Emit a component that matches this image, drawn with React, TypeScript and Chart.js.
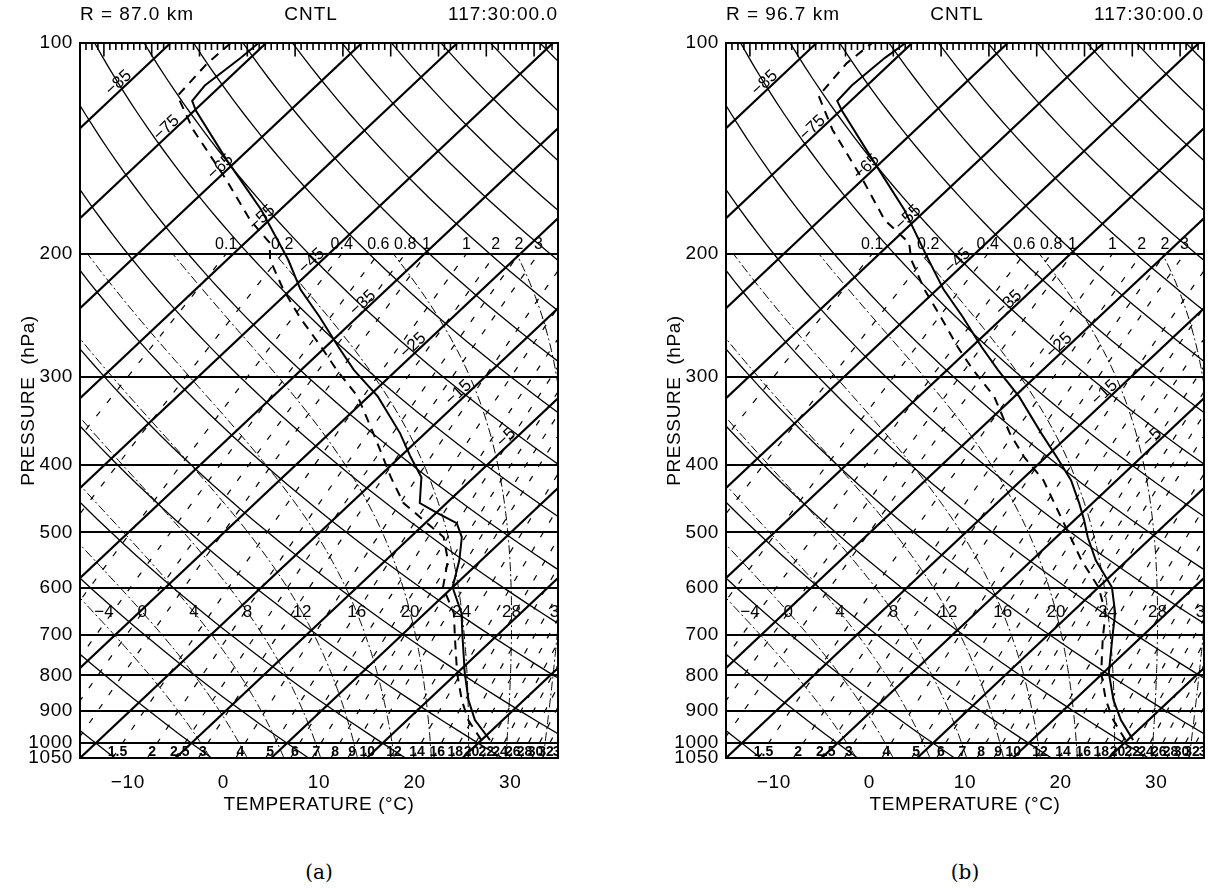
import React, { useEffect, useRef } from "react";
import { Chart, registerables } from "chart.js";

Chart.register(...registerables);

// ---------------- axes ----------------
const pressureTicks = [100, 200, 300, 400, 500, 600, 700, 800, 900, 1000, 1050];
const temperatureTicks = [-10, 0, 10, 20, 30];

// ---------------- background diagram lines ----------------
const isothermValues = [-125, -115, -105, -95, -85, -75, -65, -55, -45, -35, -25, -15, -5, 5, 15, 25, 35];
const dryAdiabatThetas = [-35, -25, -15, -5, 5, 15, 25, 35, 45, 55, 65, 75, 85, 95, 105, 115, 125, 135, 145, 155, 165, 175, 185, 195, 205];
const moistThetaW = [-4, 0, 4, 8, 12, 16, 20, 24, 28, 32];
const mixingRatios = [0.1, 0.2, 0.4, 0.6, 0.8, 1, 1.5, 2, 2.5, 3, 4, 5, 6, 7, 8, 9, 10, 12, 14, 16, 18, 20, 22, 24, 26, 28, 30, 32, 35];
const mixingTopValues = [0.1, 0.2, 0.4, 0.6, 0.8, 1, 1.5, 2, 2.5, 3];
const mixingTopText = ["0.1", "0.2", "0.4", "0.6", "0.8", "1", "1", "2", "2", "3"];
const isothermLabelT = [-85, -75, -65, -55, -45, -35, -25, -15, -5];
const isothermLabelP = [113, 131, 149, 176, 203, 233, 268, 313, 363];

// ---------------- soundings (hPa, °C) ----------------
const tempLevelsA = [990, 927, 868, 794, 706, 652, 599, 548, 508, 485, 469, 454, 417, 390, 361, 320, 293, 272, 246, 225, 204, 173, 147, 125, 121, 115, 105, 100];
const tempA = [25.9, 22.1, 19.2, 15.8, 11.6, 8.8, 5.0, 2.7, 0.4, -1.7, -4.9, -7.8, -10.5, -13.9, -17.6, -24.0, -29.5, -33.6, -39.0, -44.0, -48.6, -57.0, -66.1, -74.8, -76.3, -76.7, -76.0, -75.8];
const dewLevelsA = [990, 927, 868, 794, 706, 652, 599, 548, 508, 454, 417, 390, 361, 320, 293, 272, 246, 225, 204, 193, 179, 157, 133, 119, 107, 100];
const dewA = [25.0, 21.4, 18.5, 15.0, 10.8, 8.0, 4.0, 1.5, -1.5, -9.5, -13.7, -16.8, -20.4, -26.1, -31.3, -35.4, -41.1, -45.8, -50.5, -52.4, -57.0, -63.9, -73.0, -78.4, -78.9, -78.7];

const tempLevelsB = [990, 927, 868, 794, 706, 652, 599, 548, 508, 480, 454, 421, 390, 361, 320, 293, 272, 246, 225, 204, 173, 147, 125, 121, 115, 105, 100];
const tempB = [25.6, 22.1, 19.1, 15.6, 12.0, 9.6, 6.4, 1.7, -1.7, -4.0, -6.4, -9.8, -13.9, -18.1, -24.5, -29.7, -33.9, -39.3, -44.3, -49.2, -57.3, -66.1, -74.8, -76.4, -76.6, -76.2, -75.7];
const dewLevelsB = [990, 927, 868, 794, 706, 652, 599, 548, 508, 454, 421, 390, 361, 320, 293, 272, 246, 225, 204, 193, 179, 157, 133, 119, 107, 100];
const dewB = [24.8, 21.3, 18.3, 14.8, 11.0, 8.6, 5.0, 0.2, -3.5, -9.0, -12.7, -17.3, -21.4, -27.1, -32.3, -36.4, -41.6, -46.3, -51.0, -53.1, -58.2, -64.9, -73.7, -78.9, -79.6, -79.2];

const FONT = "'Liberation Sans', Arial, Helvetica, sans-serif";

// skew-T transform: horizontal position in °C at the 1050 hPa base
const SKEW = 33.8;
const P_BASE = 1050;
const skewX = (t: number, p: number) => t + SKEW * Math.log(P_BASE / p);

// thermodynamics used for the reference curves
const RD = 287.04, CP = 1005.7, LV = 2.501e6, EPS = 0.622;
const satVap = (tc: number) => 6.112 * Math.exp((17.67 * tc) / (tc + 243.5));
const moistRate = (tk: number, p: number) => {
  const es = satVap(tk - 273.15);
  const rs = (EPS * es) / (p - es);
  return (RD * tk + LV * rs) / (p * (CP + (LV * LV * rs * EPS) / (RD * tk * tk)));
};
function integrate(tk: number, p0: number, p1: number, h: number) {
  const out: { p: number; t: number }[] = [{ p: p0, t: tk - 273.15 }];
  let t = tk, p = p0;
  while ((h < 0 && p > p1) || (h > 0 && p < p1)) {
    const k1 = moistRate(t, p);
    const k2 = moistRate(t + (h / 2) * k1, p + h / 2);
    const k3 = moistRate(t + (h / 2) * k2, p + h / 2);
    const k4 = moistRate(t + h * k3, p + h);
    t += (h / 6) * (k1 + 2 * k2 + 2 * k3 + k4);
    p += h;
    out.push({ p, t: t - 273.15 });
  }
  return out;
}
function moistPath(tw: number) {
  const up = integrate(tw + 273.15, 1000, 200, -5);
  const down = integrate(tw + 273.15, 1000, 1050, 5);
  return [...down.reverse(), ...up.slice(1)];
}
const mixingT = (w: number, p: number) => {
  const l = Math.log((w * p) / (622 + w) / 6.112);
  return (243.5 * l) / (17.67 - l);
};
const logSteps = (pHi: number, pLo: number, n: number) =>
  Array.from({ length: n + 1 }, (_, i) => pHi * Math.pow(pLo / pHi, i / n));

const moistPaths = moistThetaW.map(moistPath);

const baseLine = (data: any[], width: number, dash: number[] = []) => ({
  data,
  borderColor: "#000",
  borderWidth: width,
  borderDash: dash,
  borderCapStyle: "butt",
  pointRadius: 0,
  fill: false,
  tension: 0,
  spanGaps: false,
});

function buildDatasets(tLev: number[], tVal: number[], dLev: number[], dVal: number[]) {
  const sets: any[] = [];
  mixingRatios.forEach((w) => {
    sets.push(baseLine(logSteps(1050, 200, 24).map((p) => ({ x: skewX(mixingT(w, p), p), y: p })), 1.2, [6, 11]));
  });
  moistPaths.forEach((path) => {
    sets.push(baseLine(path.map((q) => ({ x: skewX(q.t, q.p), y: q.p })), 1, [9, 3, 2, 3]));
  });
  dryAdiabatThetas.forEach((th) => {
    sets.push(
      baseLine(
        logSteps(1050, 100, 60).map((p) => ({ x: skewX((th + 273.15) * Math.pow(p / 1000, 0.286) - 273.15, p), y: p })),
        1.3
      )
    );
  });
  isothermValues.forEach((t) => {
    sets.push(baseLine([{ x: skewX(t, 1050), y: 1050 }, { x: skewX(t, 100), y: 100 }], 2.2));
  });
  // ruler marks hanging from the top frame
  const ruler: any[] = [];
  for (let i = 0; i <= 80; i++) {
    const xv = -15 + i * 0.625;
    ruler.push({ x: xv, y: 100 }, { x: xv, y: i % 8 === 4 ? 104.5 : 102.3 }, { x: xv, y: null });
  }
  sets.push(baseLine(ruler, 1.6));
  sets.push(baseLine(dLev.map((p, i) => ({ x: skewX(dVal[i], p), y: p })), 2, [9, 7]));
  sets.push(baseLine(tLev.map((p, i) => ({ x: skewX(tVal[i], p), y: p })), 2));
  return sets;
}

const minus = (v: number) => (v < 0 ? "\u2212" + Math.abs(v) : String(v));

const spacing = {
  id: "spacing",
  beforeDraw(chart: any) {
    chart.ctx.letterSpacing = "0.6px";
  },
};

const annotate = {
  id: "annotate",
  afterDatasetsDraw(chart: any) {
    const { ctx, chartArea: a, scales } = chart;
    const x = scales.x, y = scales.y;
    const px = (t: number, p: number) => x.getPixelForValue(skewX(t, p));
    ctx.save();
    ctx.letterSpacing = "0px";
    ctx.beginPath();
    ctx.rect(a.left, a.top, a.right - a.left, a.bottom - a.top);
    ctx.clip();
    ctx.fillStyle = "#000";

    // isotherm labels, written along the upper side of each line
    ctx.font = `17px ${FONT}`;
    ctx.textAlign = "center";
    ctx.textBaseline = "bottom";
    isothermLabelT.forEach((t, i) => {
      const p = isothermLabelP[i];
      const x0 = px(t, p), y0 = y.getPixelForValue(p);
      const x1 = px(t, p * 0.9), y1 = y.getPixelForValue(p * 0.9);
      ctx.save();
      ctx.translate(x0, y0);
      ctx.rotate(Math.atan2(y1 - y0, x1 - x0));
      ctx.fillText(minus(t), -11, 2);
      ctx.restore();
    });

    // moist adiabat labels near 650 hPa
    ctx.textBaseline = "middle";
    moistThetaW.forEach((tw, i) => {
      const path = moistPaths[i];
      const q = path.reduce((b, c) => (Math.abs(c.p - 650) < Math.abs(b.p - 650) ? c : b));
      const xv = Math.max(skewX(q.t, q.p), -12.5);
      ctx.fillText(minus(tw), x.getPixelForValue(xv), y.getPixelForValue(q.p));
    });

    // mixing ratio labels at the 200 hPa end
    ctx.font = `16px ${FONT}`;
    ctx.textBaseline = "bottom";
    mixingTopValues.forEach((w, i) => {
      ctx.fillText(mixingTopText[i], px(mixingT(w, 200), 200), y.getPixelForValue(200) - 1);
    });

    // mixing ratio labels in the 1000-1050 hPa band
    ctx.font = `bold 14px ${FONT}`;
    ctx.textBaseline = "middle";
    mixingRatios.forEach((w) => {
      if (w < 1) return;
      ctx.fillText(String(w), px(mixingT(w, 1025), 1025), y.getPixelForValue(1025) + 1);
    });
    ctx.restore();

    ctx.save();
    ctx.strokeStyle = "#000";
    ctx.lineWidth = 2;
    ctx.strokeRect(a.left, a.top, a.right - a.left, a.bottom - a.top);
    ctx.restore();
  },
};

type PanelProps = {
  left: number;
  radius: string;
  caption: string;
  tLev: number[];
  tVal: number[];
  dLev: number[];
  dVal: number[];
};

function Panel({ left, radius, caption, tLev, tVal, dLev, dVal }: PanelProps) {
  const ref = useRef<HTMLCanvasElement | null>(null);
  useEffect(() => {
    if (!ref.current) return;
    const tickFont = { family: FONT, size: 19 };
    const chart = new Chart(ref.current, {
      type: "line",
      data: { datasets: buildDatasets(tLev, tVal, dLev, dVal) },
      options: {
        animation: false,
        responsive: false,
        events: [],
        layout: { padding: { top: 43, right: 22, left: 0, bottom: 0 } },
        plugins: { legend: { display: false }, tooltip: { enabled: false }, title: { display: false } },
        scales: {
          x: {
            type: "linear",
            min: -15,
            max: 35,
            position: "bottom",
            afterBuildTicks: (s: any) => {
              s.ticks = temperatureTicks.map((v) => ({ value: v }));
            },
            afterFit: (s: any) => {
              s.height = 58;
            },
            grid: { display: false, drawTicks: false },
            border: { display: true, color: "#000", width: 2 },
            ticks: { color: "#000", font: tickFont, padding: 13, autoSkip: false, maxRotation: 0, callback: (v: any) => minus(Number(v)) },
            title: { display: true, text: "TEMPERATURE (\u00B0C)", color: "#000", font: tickFont, padding: { top: 0, bottom: 0 } },
          },
          y: {
            type: "logarithmic",
            min: 100,
            max: 1050,
            reverse: true,
            position: "left",
            afterBuildTicks: (s: any) => {
              s.ticks = pressureTicks.map((v) => ({ value: v }));
            },
            afterFit: (s: any) => {
              s.width = 80;
            },
            grid: { color: "#000", lineWidth: 2, drawTicks: false },
            border: { display: true, color: "#000", width: 2 },
            ticks: { color: "#000", font: tickFont, padding: 7, autoSkip: false, callback: (v: any) => String(v) },
            title: { display: true, text: "PRESSURE  (hPa)", color: "#000", font: tickFont, padding: { top: 17, bottom: 0 } },
          },
        },
      } as any,
      plugins: [spacing, annotate],
    });
    return () => chart.destroy();
  }, [tLev, tVal, dLev, dVal]);

  const head: React.CSSProperties = {
    position: "absolute",
    top: 3,
    fontFamily: FONT,
    fontSize: 19,
    letterSpacing: "1px",
    color: "#000",
    whiteSpace: "nowrap",
  };
  return (
    <>
      <canvas ref={ref} width={580} height={816} style={{ position: "absolute", left, top: 0 }} />
      <div style={{ ...head, left: left + 80 }}>{radius}</div>
      <div style={{ ...head, left: left + 261, width: 100, textAlign: "center" }}>CNTL</div>
      <div style={{ ...head, left: left + 380, width: 178, textAlign: "right" }}>117:30:00.0</div>
      <div
        style={{
          position: "absolute",
          top: 860,
          left: left + 289,
          width: 60,
          textAlign: "center",
          fontFamily: "'DejaVu Serif', 'Liberation Serif', serif",
          fontSize: 20,
          color: "#000",
        }}
      >
        {caption}
      </div>
    </>
  );
}

export default function App() {
  return (
    <div style={{ position: "fixed", left: 0, top: 0, width: 1225, height: 891, background: "#fff", overflow: "hidden" }}>
      <Panel left={0} radius="R = 87.0 km" caption="(a)" tLev={tempLevelsA} tVal={tempA} dLev={dewLevelsA} dVal={dewA} />
      <Panel left={646} radius="R = 96.7 km" caption="(b)" tLev={tempLevelsB} tVal={tempB} dLev={dewLevelsB} dVal={dewB} />
    </div>
  );
}
